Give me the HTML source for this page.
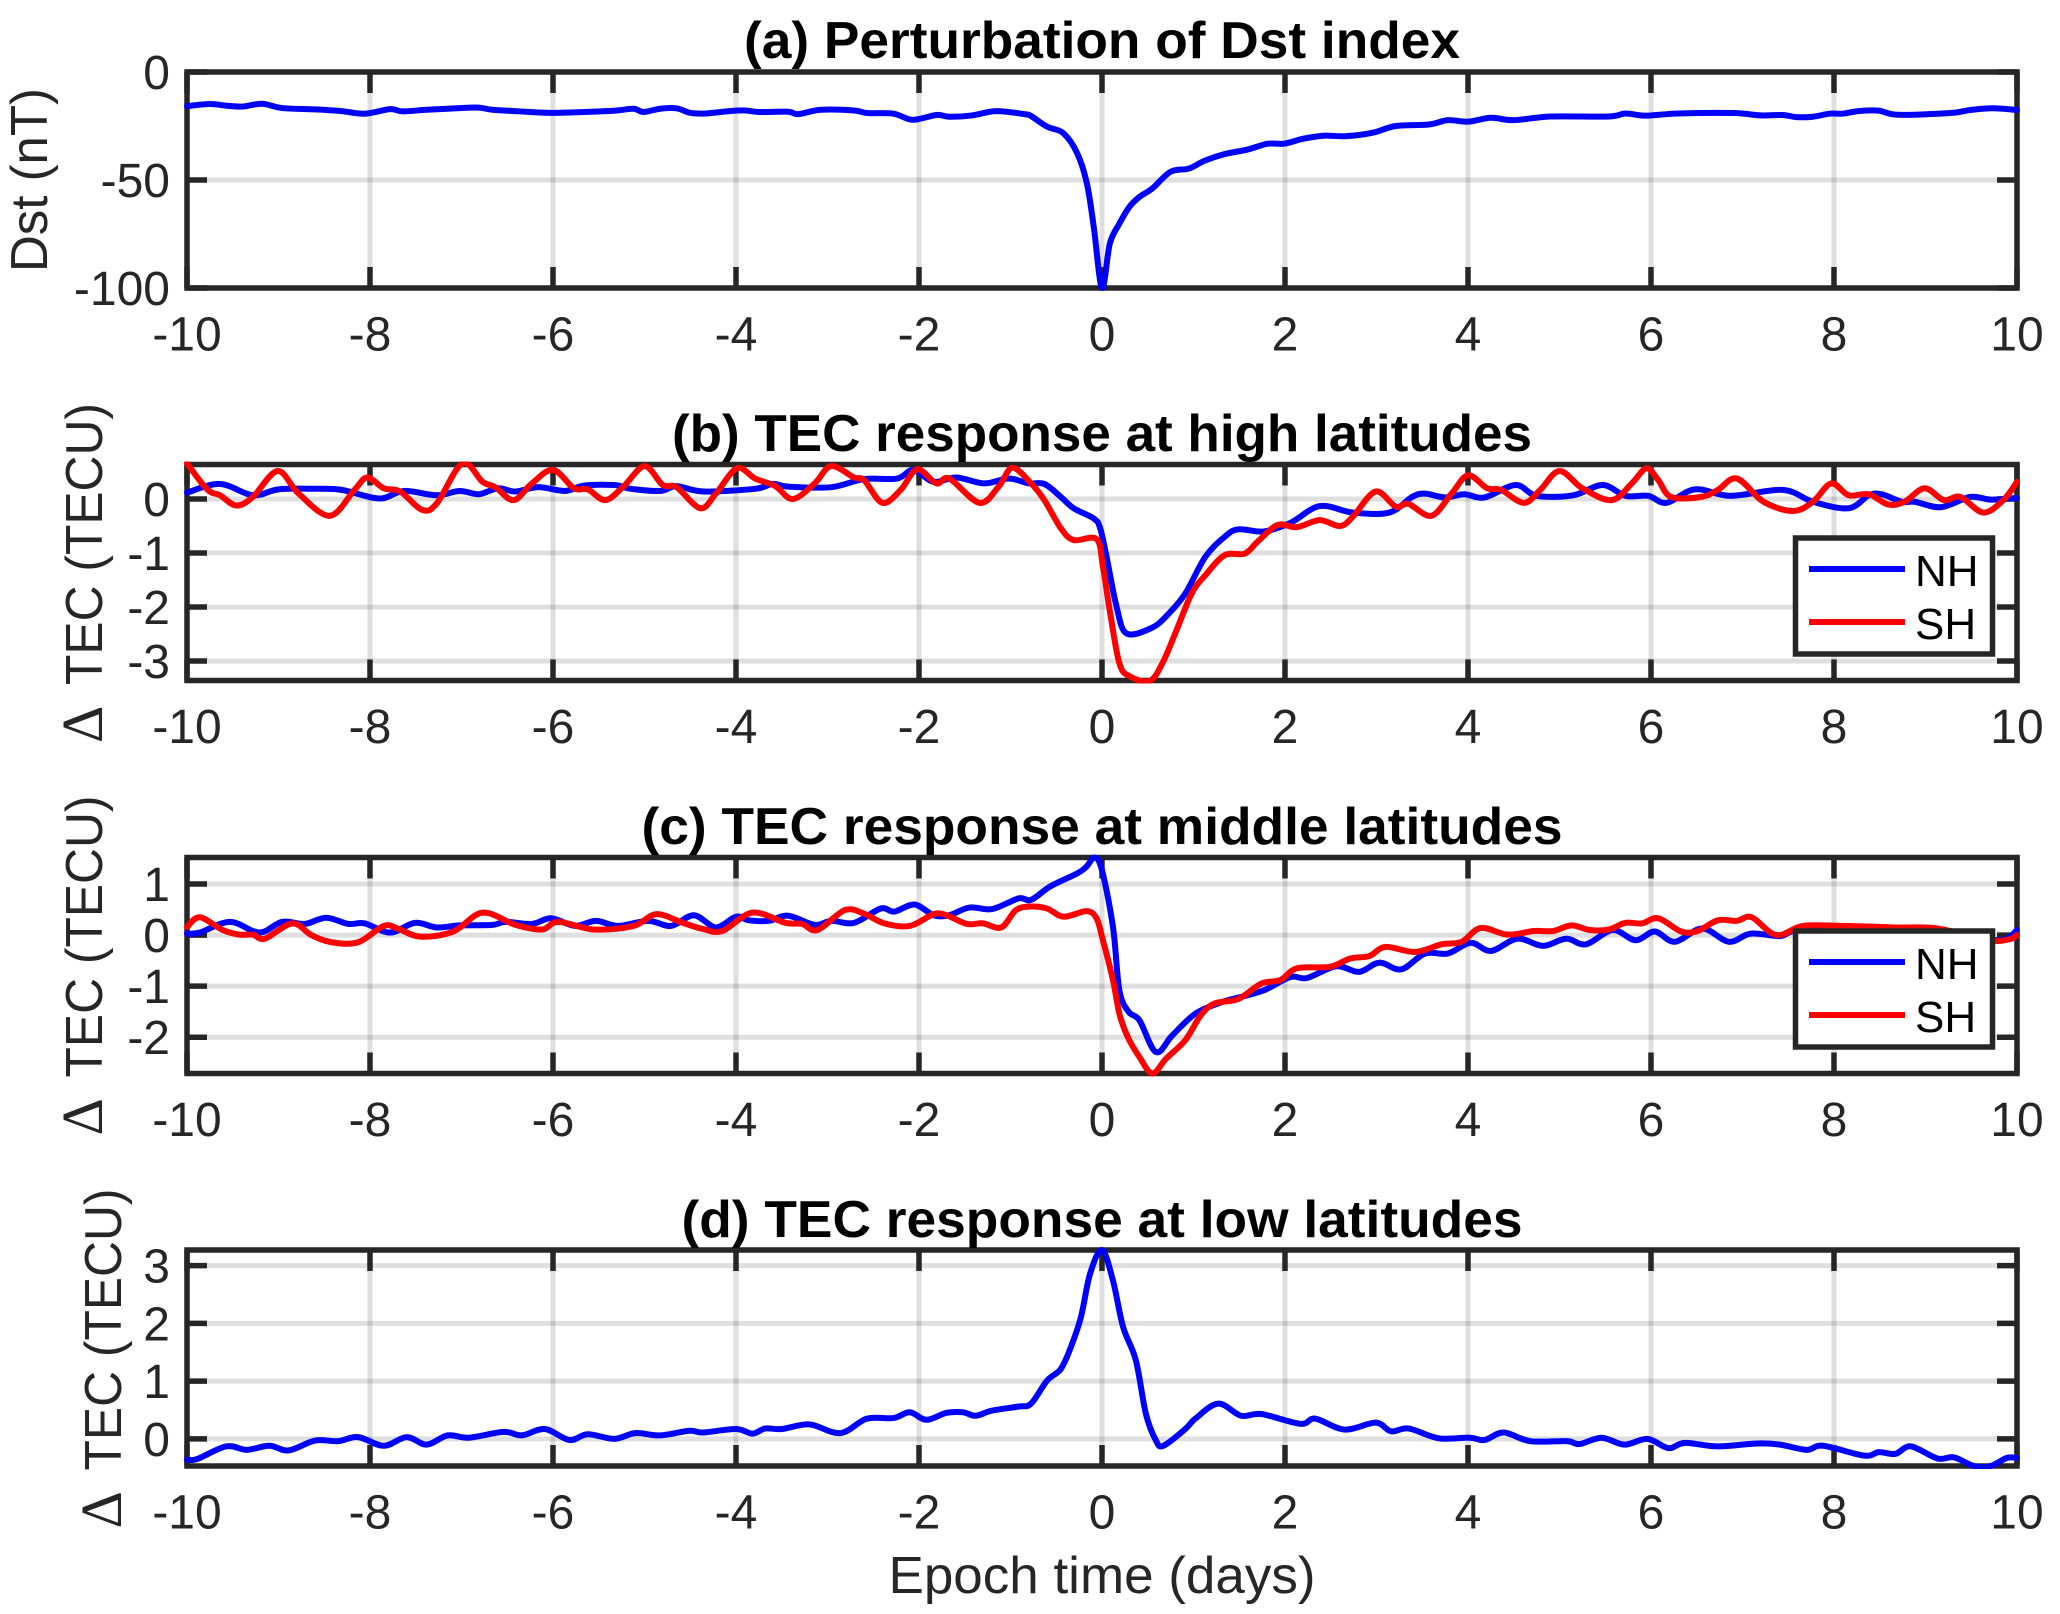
<!DOCTYPE html>
<html>
<head>
<meta charset="utf-8">
<title>Epoch analysis of Dst and TEC response</title>
<style>
html,body{margin:0;padding:0;background:#fff;}
svg{display:block;font-family:"Liberation Sans",Arial,sans-serif;}
.tick{font-size:48px;fill:#262626;}
.label{font-size:52px;fill:#262626;}
.delta{font-size:58px;fill:#262626;font-family:"Liberation Serif",serif;}
.title{font-size:52px;font-weight:bold;fill:#000;}
.leg{font-size:44px;fill:#000;}
</style>
</head>
<body>
<svg id="fig" xmlns="http://www.w3.org/2000/svg" width="2060" height="1614" viewBox="0 0 2060 1614">
<rect x="0" y="0" width="2060" height="1614" fill="#fff"/>
<g id="layer-axes"></g>
<text class="title" x="1102" y="58" text-anchor="middle" textLength="716" lengthAdjust="spacingAndGlyphs">(a) Perturbation of Dst index</text>
<text class="title" x="1102" y="451" text-anchor="middle" textLength="860" lengthAdjust="spacingAndGlyphs">(b) TEC response at high latitudes</text>
<text class="title" x="1102" y="844" text-anchor="middle" textLength="921" lengthAdjust="spacingAndGlyphs">(c) TEC response at middle latitudes</text>
<text class="title" x="1102" y="1237" text-anchor="middle" textLength="841" lengthAdjust="spacingAndGlyphs">(d) TEC response at low latitudes</text>
<text class="label" transform="translate(47,180) rotate(-90)" text-anchor="middle" textLength="184" lengthAdjust="spacingAndGlyphs">Dst (nT)</text>
<g>
  <text class="delta" transform="translate(102,743) rotate(-90)">Δ</text>
  <text class="label" transform="translate(102,685) rotate(-90)" textLength="282" lengthAdjust="spacingAndGlyphs">TEC (TECU)</text>
</g>
<g>
  <text class="delta" transform="translate(102,1135.5) rotate(-90)">Δ</text>
  <text class="label" transform="translate(102,1077.5) rotate(-90)" textLength="282" lengthAdjust="spacingAndGlyphs">TEC (TECU)</text>
</g>
<g>
  <text class="delta" transform="translate(121,1528.5) rotate(-90)">Δ</text>
  <text class="label" transform="translate(121,1470.5) rotate(-90)" textLength="282" lengthAdjust="spacingAndGlyphs">TEC (TECU)</text>
</g>
<text class="label" x="1102" y="1593" text-anchor="middle" textLength="427" lengthAdjust="spacingAndGlyphs">Epoch time (days)</text>
<g id="layer-legend">
  <g>
    <rect x="1795.5" y="538" width="197" height="116" fill="#fff" stroke="#262626" stroke-width="5.5"/>
    <line x1="1809" x2="1905" y1="569" y2="569" stroke="#0000ff" stroke-width="6"/>
    <text class="leg" x="1915" y="586">NH</text>
    <line x1="1809" x2="1905" y1="622" y2="622" stroke="#ff0000" stroke-width="6"/>
    <text class="leg" x="1915" y="639">SH</text>
  </g>
  <g>
    <rect x="1795.5" y="931" width="197" height="116" fill="#fff" stroke="#262626" stroke-width="5.5"/>
    <line x1="1809" x2="1905" y1="962" y2="962" stroke="#0000ff" stroke-width="6"/>
    <text class="leg" x="1915" y="979">NH</text>
    <line x1="1809" x2="1905" y1="1015" y2="1015" stroke="#ff0000" stroke-width="6"/>
    <text class="leg" x="1915" y="1032">SH</text>
  </g>
</g>
</svg>
<script>
// ---------- chart data (days since epoch) ----------
const xTicks = [-10,-8,-6,-4,-2,0,2,4,6,8,10];
const xTickLabels = ["-10","-8","-6","-4","-2","0","2","4","6","8","10"];

const dstTicks = [0,-50,-100];
const highTicks = [0,-1,-2,-3];
const midTicks = [1,0,-1,-2];
const lowTicks = [3,2,1,0];

const dstDays = [-10,-9.75,-9.57,-9.39,-9.18,-8.96,-8.6,-8.31,-8.06,-7.78,-7.65,-7.38,-7.02,-6.81,-6.66,-6.37,-6.02,-5.59,-5.3,-5.12,-5.01,-4.83,-4.65,-4.5,-4.33,-4.07,-3.9,-3.75,-3.43,-3.32,-3.07,-2.71,-2.57,-2.28,-2.07,-1.81,-1.67,-1.42,-1.16,-0.85,-0.775,-0.6,-0.42,-0.27,-0.165,-0.09,0,0.086,0.19,0.3,0.41,0.55,0.75,0.95,1.12,1.34,1.59,1.81,1.99,2.2,2.42,2.67,2.96,3.21,3.57,3.78,4,4.25,4.5,4.9,5.54,5.72,5.94,6.3,6.9,7.2,7.44,7.59,7.77,7.95,8.09,8.27,8.49,8.7,9.27,9.49,9.74,10];
const dstValues = [-15.8,-14.8,-15.6,-16,-14.7,-16.7,-17.3,-18.1,-19.3,-17.2,-18.2,-17.5,-16.7,-16.5,-17.5,-18.2,-18.9,-18.4,-17.8,-17,-18.5,-17,-16.8,-18.9,-19.2,-18.1,-17.8,-18.5,-18.4,-19.5,-17.5,-17.8,-19,-19.3,-22.1,-19.9,-20.7,-20.1,-18.1,-19.5,-20.4,-25.3,-28.4,-37.7,-51.6,-71.7,-100,-79.4,-70.2,-62.4,-57.8,-53.9,-46.2,-44.7,-41.1,-38,-35.9,-33.2,-33.2,-30.9,-29.5,-29.7,-28.1,-25,-24.3,-22.3,-23,-21.2,-22.3,-20.6,-20.6,-19.2,-20.2,-19.2,-19,-20.1,-19.9,-20.9,-20.7,-19.3,-19.3,-18.1,-17.9,-19.8,-19,-17.6,-16.8,-17.6];

const highNhDays = [-10,-9.64,-9.28,-9,-8.6,-8.31,-7.9,-7.63,-7.27,-7.02,-6.81,-6.6,-6.41,-6.16,-5.87,-5.66,-5.33,-5.15,-4.83,-4.65,-4.36,-3.79,-3.6,-3.43,-2.96,-2.6,-2.24,-2.06,-1.84,-1.59,-1.29,-1.02,-0.8,-0.63,-0.45,-0.31,-0.09,-0.02,0.05,0.16,0.27,0.55,0.73,0.91,1.13,1.34,1.49,1.77,2.06,2.38,2.74,3.14,3.39,3.53,3.75,3.96,4.18,4.52,4.75,5.15,5.47,5.72,5.97,6.17,6.48,6.87,7.44,7.77,8.16,8.38,8.52,8.74,8.88,9.17,9.49,9.71,10];
const highNhValues = [0.12,0.28,0.07,0.18,0.19,0.17,0.01,0.15,0.07,0.15,0.09,0.2,0.14,0.22,0.15,0.25,0.26,0.19,0.15,0.24,0.14,0.19,0.28,0.23,0.22,0.37,0.38,0.54,0.32,0.4,0.29,0.38,0.29,0.28,0.04,-0.17,-0.36,-0.54,-1.07,-2,-2.49,-2.38,-2.12,-1.75,-1.07,-0.7,-0.56,-0.6,-0.44,-0.13,-0.25,-0.25,0.04,0.1,0.03,0.09,0.03,0.26,0.06,0.07,0.26,0.06,0.06,-0.07,0.18,0.06,0.17,-0.05,-0.17,0.07,0.09,-0.05,-0.05,-0.15,0.04,-0.01,0.02];

const highShDays = [-10,-9.78,-9.64,-9.46,-9.28,-9.01,-8.78,-8.44,-8.17,-8.03,-7.85,-7.67,-7.43,-7.27,-6.99,-6.77,-6.63,-6.43,-6.23,-6,-5.77,-5.62,-5.43,-5.23,-5,-4.8,-4.65,-4.39,-4.22,-3.99,-3.79,-3.57,-3.38,-3.14,-2.96,-2.71,-2.6,-2.4,-2.2,-2.02,-1.81,-1.67,-1.34,-1.13,-0.98,-0.775,-0.63,-0.45,-0.31,-0.06,0.01,0.09,0.19,0.3,0.52,0.66,0.8,0.98,1.13,1.34,1.56,1.7,1.92,2.13,2.38,2.6,2.74,2.99,3.21,3.35,3.6,3.82,4,4.21,4.36,4.61,4.79,5,5.25,5.57,5.79,5.95,6.08,6.22,6.55,6.73,6.94,7.23,7.55,7.77,7.97,8.16,8.38,8.59,8.77,8.99,9.2,9.38,9.63,9.85,10];
const highShValues = [0.66,0.18,0.07,-0.12,0.04,0.52,0.1,-0.31,0.17,0.4,0.2,0.14,-0.2,-0.08,0.66,0.32,0.22,-0.02,0.29,0.54,0.2,0.18,-0.02,0.23,0.61,0.26,0.22,-0.17,0.1,0.57,0.38,0.24,0,0.29,0.61,0.4,0.35,-0.07,0.17,0.55,0.29,0.38,-0.07,0.23,0.58,0.29,-0.02,-0.54,-0.76,-0.74,-1.25,-2.12,-3.04,-3.28,-3.37,-3.04,-2.49,-1.75,-1.41,-1.04,-1.01,-0.79,-0.48,-0.52,-0.39,-0.5,-0.33,0.14,-0.14,-0.09,-0.31,0.1,0.44,0.2,0.17,-0.07,0.17,0.52,0.2,-0.02,0.29,0.57,0.35,0.04,0.04,0.17,0.38,-0.05,-0.22,-0.05,0.29,0.07,0.09,-0.1,-0.05,0.2,-0.02,0.04,-0.25,-0.02,0.32];

const midNhDays = [-10,-9.86,-9.53,-9.21,-8.96,-8.71,-8.48,-8.24,-8.06,-7.78,-7.51,-7.27,-7.02,-6.66,-6.52,-6.23,-6.02,-5.76,-5.53,-5.29,-4.96,-4.71,-4.46,-4.22,-4,-3.86,-3.64,-3.43,-3.14,-2.96,-2.71,-2.42,-2.27,-2.05,-1.84,-1.67,-1.45,-1.2,-0.91,-0.775,-0.56,-0.27,-0.17,-0.08,0,0.12,0.19,0.29,0.41,0.59,0.77,1.02,1.31,1.52,1.77,2.06,2.24,2.56,2.81,3.03,3.27,3.53,3.78,4.03,4.25,4.54,4.82,5.07,5.29,5.58,5.83,6.04,6.26,6.56,6.85,7.09,7.41,7.55,7.84,8.13,8.56,8.99,9.42,9.78,9.92,10];
const midNhValues = [0.03,0.05,0.26,0.05,0.26,0.22,0.34,0.22,0.23,0.05,0.24,0.15,0.19,0.2,0.26,0.22,0.33,0.18,0.28,0.18,0.28,0.18,0.39,0.15,0.36,0.29,0.28,0.38,0.2,0.28,0.24,0.52,0.46,0.6,0.39,0.39,0.54,0.51,0.72,0.69,0.96,1.21,1.34,1.52,1.27,0.16,-1.08,-1.5,-1.67,-2.29,-1.96,-1.54,-1.31,-1.21,-1.08,-0.82,-0.84,-0.61,-0.72,-0.54,-0.67,-0.36,-0.36,-0.15,-0.31,-0.07,-0.21,-0.07,-0.18,0.1,-0.1,0.07,-0.13,0.13,-0.13,0.03,-0.02,0.08,0.1,0.08,0.13,0.07,0,-0.1,-0.03,0.1];

const midShDays = [-10,-9.86,-9.61,-9.43,-9.28,-9.15,-8.85,-8.64,-8.42,-8.13,-7.85,-7.7,-7.45,-7.09,-6.77,-6.41,-6.12,-5.94,-5.55,-5.12,-4.87,-4.58,-4.36,-4.15,-3.82,-3.46,-3.28,-3.11,-2.81,-2.6,-2.38,-2.1,-1.84,-1.7,-1.48,-1.3,-1.1,-0.94,-0.775,-0.6,-0.42,-0.17,-0.06,0.01,0.12,0.19,0.28,0.41,0.55,0.7,0.91,1.08,1.23,1.49,1.74,1.95,2.13,2.49,2.71,2.92,3.1,3.42,3.71,3.93,4.14,4.43,4.72,4.93,5.13,5.33,5.54,5.72,5.9,6.08,6.33,6.51,6.73,6.94,7.1,7.37,7.66,8.09,8.7,9.13,9.7,9.92,10];
const midShValues = [0.16,0.35,0.1,0.01,0.01,-0.07,0.23,0,-0.14,-0.14,0.18,0.13,-0.03,0.07,0.44,0.2,0.11,0.26,0.11,0.18,0.41,0.24,0.12,0.08,0.44,0.24,0.22,0.1,0.49,0.42,0.23,0.18,0.41,0.39,0.22,0.23,0.15,0.49,0.56,0.52,0.36,0.47,0.33,-0.1,-0.88,-1.54,-1.99,-2.39,-2.71,-2.42,-2.06,-1.57,-1.34,-1.25,-0.95,-0.88,-0.65,-0.62,-0.46,-0.41,-0.23,-0.33,-0.18,-0.13,0.14,0.01,0.08,0.08,0.19,0.1,0.11,0.24,0.23,0.33,0.07,0.08,0.29,0.28,0.35,0,0.18,0.18,0.15,0.13,-0.1,-0.08,0];

const lowDays = [-10,-9.89,-9.57,-9.35,-9.1,-8.89,-8.6,-8.35,-8.13,-7.85,-7.6,-7.38,-7.15,-6.92,-6.54,-6.34,-6.09,-5.82,-5.62,-5.33,-5.1,-4.83,-4.51,-4.36,-4,-3.82,-3.68,-3.5,-3.2,-2.86,-2.57,-2.28,-2.1,-1.92,-1.7,-1.52,-1.38,-1.2,-0.91,-0.775,-0.6,-0.45,-0.34,-0.23,-0.13,0,0.12,0.23,0.37,0.48,0.59,0.67,0.91,1.02,1.27,1.52,1.74,2.17,2.33,2.65,2.99,3.16,3.35,3.68,4.02,4.18,4.39,4.68,5.08,5.22,5.46,5.71,5.96,6.19,6.37,6.73,7.16,7.41,7.7,7.88,8.33,8.49,8.67,8.84,9.13,9.31,9.53,9.71,9.89,10];
const lowValues = [-0.36,-0.35,-0.13,-0.19,-0.12,-0.2,-0.03,-0.04,0.03,-0.12,0.03,-0.1,0.06,0.02,0.12,0.06,0.17,-0.02,0.08,0,0.1,0.06,0.14,0.11,0.17,0.09,0.18,0.17,0.25,0.1,0.35,0.36,0.46,0.33,0.45,0.46,0.4,0.49,0.56,0.61,1.01,1.21,1.59,2.11,2.86,3.27,2.74,1.94,1.36,0.43,-0.03,-0.12,0.17,0.35,0.61,0.4,0.43,0.26,0.35,0.16,0.28,0.13,0.18,0.01,0.02,-0.02,0.11,-0.04,-0.04,-0.09,0.02,-0.1,0,-0.16,-0.07,-0.13,-0.08,-0.1,-0.19,-0.12,-0.29,-0.23,-0.26,-0.13,-0.34,-0.32,-0.47,-0.47,-0.33,-0.33];

// ---------- layout ----------
const plotLeft = 187;
const plotRight = 2017;
const plotHeight = 216;
const SVGNS = 'http://www.w3.org/2000/svg';
const root = document.getElementById('layer-axes');

function mk(tag, attrs, parent) {
  const el = document.createElementNS(SVGNS, tag);
  for (const k in attrs) el.setAttribute(k, attrs[k]);
  parent.appendChild(el);
  return el;
}
function xScale(v) { return plotLeft + (v + 10) / 20 * (plotRight - plotLeft); }

// Catmull-Rom path through (days, values) via the axis functions
function curve(days, vals, yScale) {
  const p = days.map((d, i) => [xScale(d), yScale(vals[i])]);
  let s = 'M' + p[0][0].toFixed(2) + ' ' + p[0][1].toFixed(2);
  for (let i = 0; i < p.length - 1; i++) {
    const a = p[Math.max(i - 1, 0)], b = p[i], c = p[i + 1], e = p[Math.min(i + 2, p.length - 1)];
    const c1x = b[0] + (c[0] - a[0]) / 6, c1y = b[1] + (c[1] - a[1]) / 6;
    const c2x = c[0] - (e[0] - b[0]) / 6, c2y = c[1] - (e[1] - b[1]) / 6;
    s += 'C' + c1x.toFixed(2) + ' ' + c1y.toFixed(2) + ' ' + c2x.toFixed(2) + ' ' + c2y.toFixed(2) + ' ' + c[0].toFixed(2) + ' ' + c[1].toFixed(2);
  }
  return s;
}

function drawPanel(id, top, yMin, yMax, yTicks, series) {
  const bottom = top + plotHeight;
  const yScale = v => top + (yMax - v) / (yMax - yMin) * plotHeight;

  const g = mk('g', {}, root);
  
  

  const clip = mk('clipPath', { id: 'clip-' + id }, g);
  mk('rect', { x: plotLeft - 3, y: top - 3, width: plotRight - plotLeft + 6, height: plotHeight + 6 }, clip);

  // grid
  xTicks.forEach(t => {
    const el = mk('line', { x1: xScale(t), x2: xScale(t), y1: top, y2: bottom, stroke: '#262626', 'stroke-opacity': 0.15, 'stroke-width': 5 }, g);
    
    
  });
  yTicks.forEach(t => {
    const el = mk('line', { x1: plotLeft, x2: plotRight, y1: yScale(t), y2: yScale(t), stroke: '#262626', 'stroke-opacity': 0.15, 'stroke-width': 5 }, g);
    
    
  });

  // frame
  const frame = mk('rect', { x: plotLeft, y: top, width: plotRight - plotLeft, height: plotHeight, fill: 'none', stroke: '#262626', 'stroke-width': 5.5 }, g);
  
  

  // ticks and labels
  xTicks.forEach((t, i) => {
    const a = mk('line', { x1: xScale(t), x2: xScale(t), y1: top, y2: top + 21, stroke: '#262626', 'stroke-width': 5.5 }, g);
    
    
    const b = mk('line', { x1: xScale(t), x2: xScale(t), y1: bottom, y2: bottom - 21, stroke: '#262626', 'stroke-width': 5.5 }, g);
    
    
    const lab = mk('text', { class: 'tick', x: xScale(t), y: bottom + 62.5, 'text-anchor': 'middle' }, g);
    
    
    lab.textContent = xTickLabels[i];
  });
  yTicks.forEach(t => {
    const a = mk('line', { x1: plotLeft, x2: plotLeft + 20, y1: yScale(t), y2: yScale(t), stroke: '#262626', 'stroke-width': 5.5 }, g);
    
    
    const b = mk('line', { x1: plotRight, x2: plotRight - 20, y1: yScale(t), y2: yScale(t), stroke: '#262626', 'stroke-width': 5.5 }, g);
    
    
    const lab = mk('text', { class: 'tick', x: 170, y: yScale(t) + 17, 'text-anchor': 'end' }, g);
    
    
    lab.textContent = String(t);
  });

  // series
  const sg = mk('g', { 'clip-path': 'url(#clip-' + id + ')' }, g);
  
  
  series.forEach(s => {
    const el = mk('path', { d: curve(s.days, s.values, yScale), fill: 'none', stroke: s.color, 'stroke-width': 6, 'stroke-linejoin': 'round', 'stroke-linecap': 'round' }, sg);
    
    
  });
}

drawPanel('a', 72, -100, 0, dstTicks, [
  { name: 'dst-line', color: '#0000ff', days: dstDays, values: dstValues }
]);
drawPanel('b', 464.5, -3.36, 0.64, highTicks, [
  { name: 'high-nh-line', color: '#0000ff', days: highNhDays, values: highNhValues },
  { name: 'high-sh-line', color: '#ff0000', days: highShDays, values: highShValues }
]);
drawPanel('c', 857.5, -2.71, 1.52, midTicks, [
  { name: 'mid-nh-line', color: '#0000ff', days: midNhDays, values: midNhValues },
  { name: 'mid-sh-line', color: '#ff0000', days: midShDays, values: midShValues }
]);
drawPanel('d', 1250, -0.47, 3.27, lowTicks, [
  { name: 'low-line', color: '#0000ff', days: lowDays, values: lowValues }
]);
</script>
</body>
</html>
